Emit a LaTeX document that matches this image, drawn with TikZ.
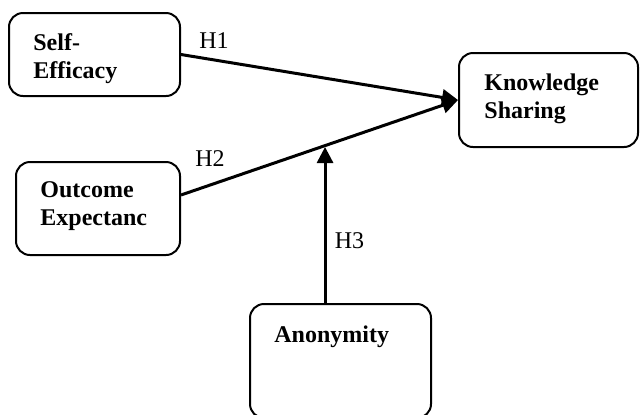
\documentclass[tikz,border=0pt]{standalone}
\usepackage{fontspec}
\setmainfont{Liberation Serif}
\usetikzlibrary{arrows.meta}
\begin{document}
\begin{tikzpicture}[x=0.5pt,y=-0.5pt,
  box/.style={draw,line width=1pt,rounded corners=7pt,inner sep=0pt},
  boxtext/.style={anchor=north west,inner sep=0pt,align=left,font=\fontsize{12}{14}\selectfont\bfseries},
  hyp/.style={inner sep=0pt,font=\fontsize{12}{14}\selectfont},
  link/.style={line width=1.5pt,-{Triangle[length=8pt,width=8pt]}}]
\useasboundingbox (0,0) rectangle (640,414);

\node[box,minimum width=85.5pt,minimum height=41.5pt] (se) at (94.5,54.5) {};
\node[box,minimum width=82pt,minimum height=46.5pt] (oe) at (98,208.5) {};
\node[box,minimum width=89.5pt,minimum height=47pt] (ks) at (548.5,100) {};
\node[box,minimum width=90.5pt,minimum height=57pt] (an) at (340.5,361) {};

\node[boxtext] (setext) at (33,33.5) {Self-\\Efficacy};
\node[boxtext] (oetext) at (40,181.5) {Outcome\\Expectanc};
\node[boxtext] (kstext) at (484,73.5) {Knowledge\\Sharing};
\node[boxtext] (antext) at (274,325.5) {Anonymity};

\node[hyp] (h1) at (214,41) {H1};
\node[hyp] (h2) at (210,159) {H2};
\node[hyp] (h3) at (349.5,241) {H3};

\draw[link] (se.east) -- (ks.west);
\draw[link] ([yshift=6.75pt]oe.east) -- coordinate[pos=0.52] (m) (ks.west);
\draw[link,shorten >=0.7pt] (an.north -| m) -- (m);
\end{tikzpicture}
\end{document}
